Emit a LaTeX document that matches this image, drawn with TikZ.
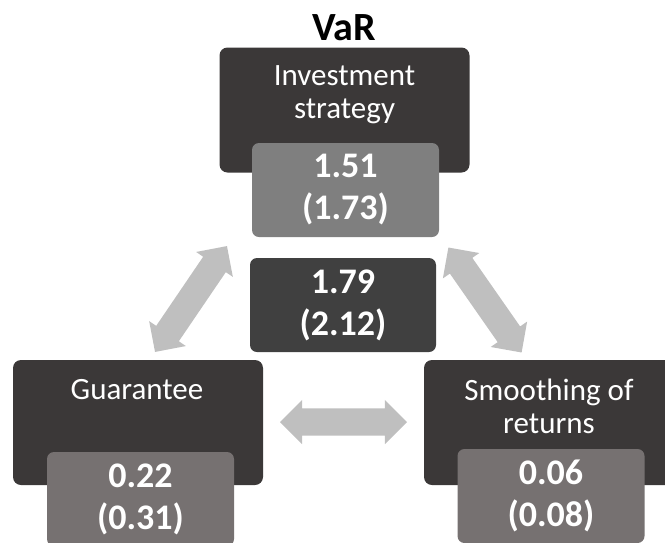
\documentclass[tikz,border=0pt]{standalone}
\usepackage{fontspec}
\setmainfont{Carlito}
\usepackage{tikz}
\usetikzlibrary{shapes.arrows}
\definecolor{BoxDark}{RGB}{59,56,56}
\definecolor{BoxMid}{RGB}{64,64,64}
\definecolor{ValTop}{RGB}{127,127,127}
\definecolor{ValSide}{RGB}{118,113,113}
\definecolor{ArrowGrey}{RGB}{191,191,191}

\tikzset{
  factorbox/.style={fill=BoxDark,rounded corners=8pt,inner sep=0pt,
                    minimum width=250pt,minimum height=125pt},
  factorlabel/.style={text=white,align=center,inner sep=0pt,anchor=base,
                      font=\fontsize{31}{33}\selectfont},
  valbox/.style={fill=#1,rounded corners=7pt,inner sep=0pt,text=white,
                 align=center,minimum width=187pt,minimum height=94pt,
                 font=\fontsize{36}{42}\selectfont\bfseries},
  twoway/.style={double arrow,fill=ArrowGrey,inner xsep=0pt,inner ysep=13.5pt,
                 double arrow head extend=8.5pt,minimum height=128pt}
}

\begin{document}
\begin{tikzpicture}[x=1pt,y=-1pt]
    \useasboundingbox (0,0) rectangle (665,542);

    \node[font=\fontsize{40}{44}\selectfont\bfseries,anchor=base] (title) at (344,40) {VaR};

    % investment strategy
    \node[factorbox] (inv) at (344.5,110) {};
    \node[factorlabel] (invtxt) at (344.5,118) {Investment\\strategy};
    \node[valbox=ValTop] (invval) at (345.5,190) {1.51\\(1.73)};

    % joint effect
    \node[valbox=BoxMid,minimum width=186pt] (joint) at (343,305) {1.79\\(2.12)};

    % guarantee
    \node[factorbox] (guar) at (138,422.5) {};
    \node[factorlabel] (guartxt) at (137,399) {Guarantee};
    \node[valbox=ValSide] (guarval) at (140.5,499) {0.22\\(0.31)};

    % smoothing of returns
    \node[factorbox] (smooth) at (549,422.5) {};
    \node[factorlabel] (smoothtxt) at (549,433) {Smoothing of\\returns};
    \node[valbox=ValSide] (smoothval) at (551,496) {0.06\\(0.08)};

    % interactions
    \node[twoway,rotate=55.8] (invguar) at (191,299) {};
    \node[twoway,rotate=-55.1] (invsmooth) at (485,300) {};
    \node[twoway,minimum height=127pt] (guarsmooth) at (343.5,422) {};
\end{tikzpicture}
\end{document}
